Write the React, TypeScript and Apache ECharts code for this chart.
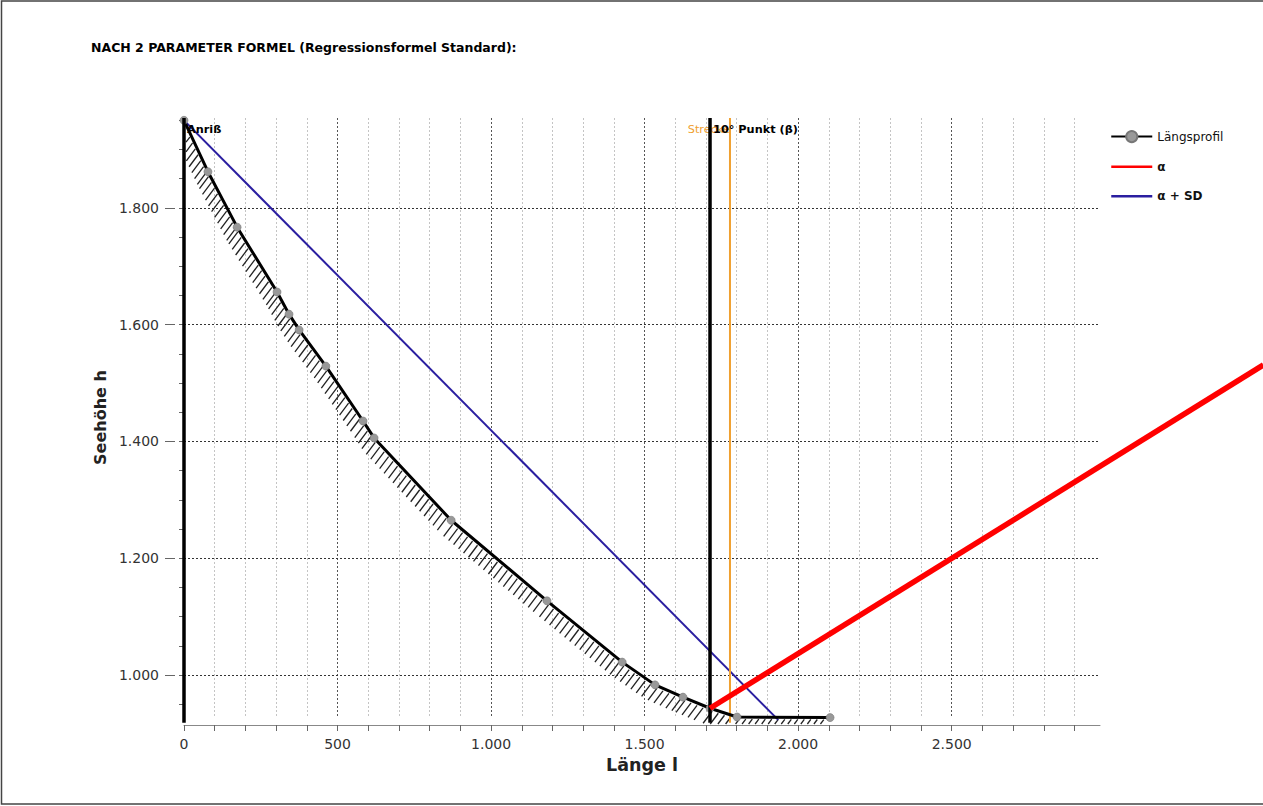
import React, { useEffect, useRef } from "react";
import * as echarts from "echarts";

const TITLE = "NACH 2 PARAMETER FORMEL (Regressionsformel Standard):";
const X_NAME = "Länge l";
const Y_NAME = "Seehöhe h";

// Längsprofil (Länge l, Seehöhe h)
const profileX = [0, 78, 173, 303, 342, 375, 462, 583, 619, 870, 1182, 1427, 1534, 1625, 1713, 1801, 2104];
const profileY = [1950, 1862, 1767, 1656, 1618, 1591, 1529, 1435, 1406, 1265, 1127, 1022, 983, 962, 943, 928, 927];

// α line
const alphaX = [1713, 3515];
const alphaY = [943, 1531];

// α + SD line
const sdX = [0, 1935];
const sdY = [1950, 923];

// vertical marker lines
const markerNames = ["Anriß", "10° Punkt (β)", "Strecke"];
const markerX = [0, 1713, 1778];

// axes
const X_MIN = 0;
const X_MAX = 2983;
const Y_MIN = 928;
const Y_MAX = 1954;
const xLabelValues = [0, 500, 1000, 1500, 2000, 2500];
const xTickValues = [0, 100, 200, 300, 400, 500, 600, 700, 800, 900, 1000, 1100, 1200, 1300, 1400, 1500, 1600, 1700, 1800, 1900, 2000, 2100, 2200, 2300, 2400, 2500, 2600, 2700, 2800, 2900];
const yLabelValues = [1000, 1200, 1400, 1600, 1800];
const yTickValues = [950, 1000, 1050, 1100, 1150, 1200, 1250, 1300, 1350, 1400, 1450, 1500, 1550, 1600, 1650, 1700, 1750, 1800, 1850, 1900, 1950];

const FONT = "DejaVu Sans";
const fmt = (v: number) => String(Math.round(v)).replace(/\B(?=(\d{3})+(?!\d))/g, ".");

export default function App() {
  const ref = useRef<HTMLDivElement>(null);
  useEffect(() => {
    if (!ref.current) return;
    const chart = echarts.init(ref.current, null, { renderer: "svg" });

    const markerBottom = 918;
    const hatchData = profileX.slice(0, -1).map((x, i) => [x, profileY[i], profileX[i + 1], profileY[i + 1]]);
    const STEP = 6.5;
    const HX = 9;
    const HY = 12;

    const markerSeries = markerNames.map((name, i) => {
      const isOrange = i === 2;
      return {
        type: "line",
        name: "marker" + i,
        clip: false,
        silent: true,
        z: isOrange ? 3 : 6,
        symbol: "circle",
        symbolSize: 0,
        showSymbol: true,
        lineStyle: { color: isOrange ? "#f0a030" : "#000", width: isOrange ? 2 : 3.5 },
        itemStyle: { color: isOrange ? "#f0a030" : "#000" },
        data: [
          {
            value: [markerX[i], Y_MAX],
            label: {
              show: true,
              position: isOrange ? "left" : "right",
              distance: isOrange ? 0 : 3,
              offset: [0, 11],
              formatter: name,
              fontFamily: FONT,
              fontSize: 11.3,
              fontWeight: isOrange ? "normal" : "bold",
              color: isOrange ? "#f0a030" : "#000",
            },
          },
          { value: [markerX[i], markerBottom], label: { show: false } },
        ],
      };
    });

    const hiddenSymbol = { color: "rgba(0,0,0,0)", borderColor: "rgba(0,0,0,0)", borderWidth: 0, opacity: 0 };

    chart.setOption({
      animation: false,
      backgroundColor: "#fff",
      title: {
        text: TITLE,
        left: 86,
        top: 36,
        textStyle: { fontFamily: FONT, fontSize: 12.5, fontWeight: "bold", color: "#000" },
      },
      graphic: [
        {
          type: "rect",
          shape: { x: 1.5, y: 1, width: 1280, height: 803 },
          style: { fill: "none", stroke: "#444", lineWidth: 1.5 },
          silent: true,
        },
      ],
      legend: {
        orient: "vertical",
        left: 1105,
        top: 125,
        itemWidth: 41,
        itemHeight: 14,
        itemGap: 17.5,
        textStyle: {
          fontFamily: FONT,
          fontSize: 12,
          color: "#111",
          rich: { b: { fontFamily: FONT, fontSize: 12, fontWeight: "bold", color: "#111" } },
        },
        formatter: (n: string) => (n === "Längsprofil" ? n : `{b|${n}}`),
        data: [
          { name: "Längsprofil" },
          { name: "α", lineStyle: { width: 2.5 }, itemStyle: hiddenSymbol },
          { name: "α + SD", lineStyle: { width: 2.5 }, itemStyle: hiddenSymbol },
        ],
      },
      grid: { left: 184, right: 163, top: 118, bottom: 89, containLabel: false },
      xAxis: {
        type: "value",
        min: X_MIN,
        max: X_MAX,
        interval: 100,
        offset: 8,
        name: X_NAME,
        nameLocation: "middle",
        nameGap: 26,
        nameTextStyle: { fontFamily: FONT, fontSize: 17.5, fontWeight: "bold", color: "#222" },
        axisLine: { show: true, lineStyle: { color: "#888", width: 1 } },
        axisTick: { show: true, length: 6, lineStyle: { color: "#666" }, customValues: xTickValues },
        axisLabel: {
          customValues: xLabelValues,
          formatter: (v: number) => fmt(v),
          fontFamily: FONT,
          fontSize: 14,
          color: "#333",
          margin: 12,
        },
        splitLine: {
          show: true,
          lineStyle: { color: ["#555", "#c4c4c4", "#c4c4c4", "#c4c4c4", "#c4c4c4"], type: [2, 2], width: 1 },
        },
      },
      yAxis: [
        {
          type: "value",
          min: Y_MIN,
          max: Y_MAX,
          offset: 9,
          name: Y_NAME,
          nameLocation: "middle",
          nameGap: 58,
          nameTextStyle: { fontFamily: FONT, fontSize: 16, fontWeight: "bold", color: "#222" },
          axisLine: { show: true, lineStyle: { color: "#888", width: 1 } },
          axisTick: { show: true, length: 5, lineStyle: { color: "#666" }, customValues: yTickValues },
          axisLabel: {
            customValues: yLabelValues,
            formatter: (v: number) => fmt(v),
            fontFamily: FONT,
            fontSize: 14,
            color: "#333",
            margin: 16,
          },
          splitLine: { show: false },
        },
        {
          type: "value",
          min: Y_MIN,
          max: Y_MAX,
          offset: 9,
          position: "left",
          axisLine: { show: false },
          axisTick: { show: true, length: 10, lineStyle: { color: "#666" }, customValues: yLabelValues },
          axisLabel: { show: false },
          splitLine: { show: false },
        },
      ],
      series: [
        {
          type: "custom",
          name: "hatch",
          silent: true,
          clip: false,
          z: 2,
          encode: { x: [0, 2], y: [1, 3] },
          data: hatchData,
          renderItem: (params: any, api: any) => {
            const p0 = api.coord([api.value(0), api.value(1)]);
            const p1 = api.coord([api.value(2), api.value(3)]);
            const origin = api.coord([X_MIN, Y_MIN]);
            const floor = origin[1] + 7;
            const leftEdge = origin[0] + 2;
            const dx = p1[0] - p0[0];
            const dy = p1[1] - p0[1];
            const len = Math.hypot(dx, dy);
            const children: any[] = [];
            for (let d = STEP / 2; d < len; d += STEP) {
              const t = d / len;
              const x = p0[0] + dx * t - 1;
              const y = p0[1] + dy * t + 2;
              let s = 1;
              if (y + HY > floor) s = Math.min(s, (floor - y) / HY);
              if (x - HX < leftEdge) s = Math.min(s, (x - leftEdge) / HX);
              if (s <= 0.15) continue;
              children.push({
                type: "line",
                shape: { x1: x, y1: y, x2: x - HX * s, y2: y + HY * s },
                style: { stroke: "#222", lineWidth: 1.3 },
              });
            }
            return { type: "group", children };
          },
        },
        {
          type: "line",
          name: "α + SD",
          z: 3,
          symbol: "none",
          clip: false,
          lineStyle: { color: "#2a1ea0", width: 2 },
          itemStyle: { color: "#2a1ea0" },
          data: sdX.map((x, i) => [x, sdY[i]]),
          markLine: {
            silent: true,
            symbol: "none",
            label: { show: false },
            z: 1,
            lineStyle: { color: "#333", type: [2, 2], width: 1 },
            data: yLabelValues.map((v) => ({ yAxis: v })),
          },
        },
        markerSeries[2],
        {
          type: "line",
          name: "Längsprofil",
          z: 4,
          symbol: "circle",
          symbolSize: 8,
          showSymbol: true,
          clip: false,
          lineStyle: { color: "#000", width: 3 },
          itemStyle: { color: "#999", borderColor: "#777", borderWidth: 0.6 },
          data: profileX.map((x, i) => [x, profileY[i]]),
        },
        markerSeries[0],
        markerSeries[1],
        {
          type: "line",
          name: "α",
          z: 7,
          symbol: "none",
          lineStyle: { color: "#ff0000", width: 5 },
          itemStyle: { color: "#ff0000" },
          data: [],
        },
        {
          type: "custom",
          name: "αLine",
          silent: true,
          clip: false,
          z: 7,
          encode: { x: [0, 2], y: [1, 3] },
          data: [[alphaX[0], alphaY[0], alphaX[1], alphaY[1]]],
          renderItem: (params: any, api: any) => {
            const a = api.coord([api.value(0), api.value(1)]);
            const b = api.coord([api.value(2), api.value(3)]);
            return {
              type: "line",
              shape: { x1: a[0], y1: a[1], x2: b[0], y2: b[1] },
              style: { stroke: "#ff0000", lineWidth: 5.5 },
            };
          },
        },
      ],
    });

    return () => chart.dispose();
  }, []);

  return (
    <div
      ref={ref}
      style={{ position: "fixed", left: 0, top: 0, width: 1263, height: 806, background: "#fff" }}
    />
  );
}
